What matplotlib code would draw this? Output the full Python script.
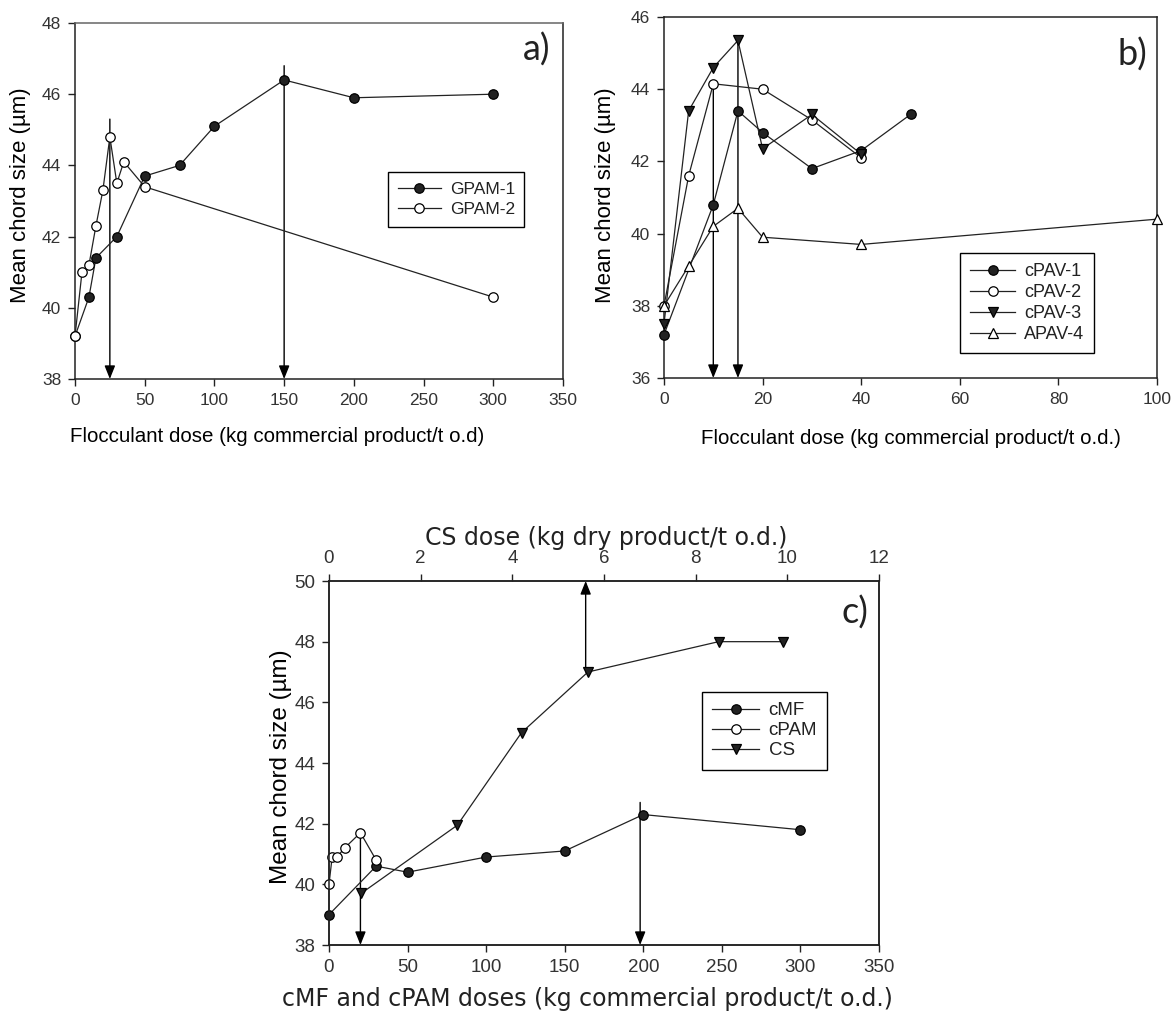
import matplotlib
matplotlib.use("Agg")
import matplotlib.pyplot as plt

plt.rcParams['font.family'] = ['Liberation Sans', 'DejaVu Sans']

# ---------------- data ----------------
# panel a
gpam1_x = [0, 10, 15, 30, 50, 75, 100, 150, 200, 300]
gpam1_y = [39.2, 40.3, 41.4, 42.0, 43.7, 44.0, 45.1, 46.4, 45.9, 46.0]
gpam2_x = [0, 5, 10, 15, 20, 25, 30, 35, 50, 300]
gpam2_y = [39.2, 41.0, 41.2, 42.3, 43.3, 44.8, 43.5, 44.1, 43.4, 40.3]
arrows_a_x = [25, 150]
arrows_a_top = [45.3, 46.8]

# panel b
cpav1_x = [0, 10, 15, 20, 30, 40, 50]
cpav1_y = [37.2, 40.8, 43.4, 42.8, 41.8, 42.3, 43.3]
cpav2_x = [0, 5, 10, 20, 30, 40]
cpav2_y = [38.0, 41.6, 44.15, 44.0, 43.15, 42.1]
cpav3_x = [0, 5, 10, 15, 20, 30, 40]
cpav3_y = [37.5, 43.4, 44.6, 45.35, 42.35, 43.3, 42.2]
apav4_x = [0, 5, 10, 15, 20, 40, 100]
apav4_y = [38.0, 39.1, 40.2, 40.7, 39.9, 39.7, 40.4]
arrows_b_x = [10, 15]
arrows_b_top = [44.15, 45.35]

# panel c
cmf_x = [0, 30, 50, 100, 150, 200, 300]
cmf_y = [39.0, 40.6, 40.4, 40.9, 41.1, 42.3, 41.8]
cpam_x = [0, 2, 5, 10, 20, 30]
cpam_y = [40.0, 40.9, 40.9, 41.2, 41.7, 40.8]
cs_x = [0.7, 2.8, 4.2, 5.65, 8.5, 9.9]
cs_y = [39.7, 41.95, 45.0, 47.0, 48.0, 48.0]
arrows_c_x = [20, 198]
arrows_c_top = [41.7, 42.7]
arrow_cs_x = 5.6
arrow_cs_bottom = 47.0

xticks_a = [0, 50, 100, 150, 200, 250, 300, 350]
yticks_a = [38, 40, 42, 44, 46, 48]
xticks_b = [0, 20, 40, 60, 80, 100]
yticks_b = [36, 38, 40, 42, 44, 46]
xticks_c = [0, 50, 100, 150, 200, 250, 300, 350]
xticks_c_top = [0, 2, 4, 6, 8, 10, 12]
yticks_c = [38, 40, 42, 44, 46, 48, 50]

# ---------------- style ----------------
LC = '#222222'
LW = 0.9
MS = 6.8
TICK_COLOR = '#333333'
W, H = 1172, 1015

fig = plt.figure(figsize=(W / 100, H / 100), dpi=100)

def style_axes(ax, fs):
    for s in ax.spines.values():
        s.set_color(LC)
        s.set_linewidth(1.1)
    ax.tick_params(direction='out', length=5, width=1, colors=LC,
                   labelsize=fs, labelcolor=TICK_COLOR, pad=5,
                   top=False, right=False)

def series(ax, x, y, marker, filled, label, ms=MS, z=3):
    ax.plot(x, y, color=LC, lw=LW, marker=marker, ms=ms,
            mfc=LC if filled else 'white', mec='black', mew=0.9,
            label=label, zorder=z, clip_on=False)

def down_arrow(ax, x, ytop, ybot):
    ax.annotate('', xy=(x, ybot), xytext=(x, ytop),
                arrowprops=dict(arrowstyle='-|>,head_length=0.8,head_width=0.32',
                                color='black', lw=1.0, shrinkA=0, shrinkB=0),
                zorder=2, annotation_clip=False)

def make_legend(ax, handles, labels, x_px, y_px, fs, spacing):
    leg = ax.legend(handles, labels, loc='upper left',
                    bbox_to_anchor=(x_px / W, 1 - y_px / H),
                    bbox_transform=fig.transFigure, borderaxespad=0,
                    fontsize=fs, frameon=True, fancybox=False,
                    edgecolor='black', framealpha=1, numpoints=1,
                    handlelength=2.5, handletextpad=0.5, labelspacing=spacing,
                    borderpad=0.55)
    leg.get_frame().set_linewidth(1.0)
    for t in leg.get_texts():
        t.set_color('#222222')
    return leg

def px_axes(l, r, t, b):
    return fig.add_axes([l / W, 1 - b / H, (r - l) / W, (b - t) / H])

# ---------------- panel a ----------------
axa = px_axes(75, 563, 23, 379)
style_axes(axa, 12.5)
axa.spines['top'].set_color('#666666')
for x, yt in zip(arrows_a_x, arrows_a_top):
    down_arrow(axa, x, yt, 38)
series(axa, gpam1_x, gpam1_y, 'o', True, 'GPAM-1')
series(axa, gpam2_x, gpam2_y, 'o', False, 'GPAM-2', z=4)
axa.set_xlim(0, 350)
axa.set_ylim(38, 48)
axa.set_xticks(xticks_a)
axa.set_yticks(yticks_a)
axa.set_xlabel('Flocculant dose (kg commercial product/t o.d)', fontsize=14.8)
axa.xaxis.set_label_coords(0.414, -0.135)
axa.set_ylabel('Mean chord size (µm)', fontsize=16)
axa.yaxis.set_label_coords(-0.090, 0.517)
axa.text(0.975, 0.924, 'a)', transform=axa.transAxes, fontsize=26, family='Lato',
         ha='right', va='center', color='#222222')
h_a, l_a = axa.get_legend_handles_labels()
make_legend(axa, h_a, l_a, 388, 172, 12.5, 0.32)

# ---------------- panel b ----------------
axb = px_axes(664, 1157, 17, 378)
style_axes(axb, 12.5)
for x, yt in zip(arrows_b_x, arrows_b_top):
    down_arrow(axb, x, yt, 36)
series(axb, cpav1_x, cpav1_y, 'o', True, 'cPAV-1')
series(axb, cpav2_x, cpav2_y, 'o', False, 'cPAV-2')
series(axb, cpav3_x, cpav3_y, 'v', True, 'cPAV-3', ms=7.2)
series(axb, apav4_x, apav4_y, '^', False, 'APAV-4', ms=7.2)
axb.set_xlim(0, 100)
axb.set_ylim(36, 46)
axb.set_xticks(xticks_b)
axb.set_yticks(yticks_b)
axb.set_xlabel('Flocculant dose (kg commercial product/t o.d.)', fontsize=14.8)
axb.xaxis.set_label_coords(0.5, -0.14)
axb.set_ylabel('Mean chord size (µm)', fontsize=16)
axb.yaxis.set_label_coords(-0.097, 0.507)
axb.text(0.98, 0.895, 'b)', transform=axb.transAxes, fontsize=26, family='Lato',
         ha='right', va='center', color='#222222')
h_b, l_b = axb.get_legend_handles_labels()
make_legend(axb, h_b, l_b, 960, 253, 13, 0.22)

# ---------------- panel c ----------------
axc = px_axes(329, 879, 581, 945)
style_axes(axc, 13.5)
axc_top = axc.twiny()
style_axes(axc_top, 13.5)
axc_top.tick_params(top=True, bottom=False, labeltop=True, labelbottom=False)
for x, yt in zip(arrows_c_x, arrows_c_top):
    down_arrow(axc, x, yt, 38)
series(axc, cmf_x, cmf_y, 'o', True, 'cMF')
series(axc, cpam_x, cpam_y, 'o', False, 'cPAM', z=4)
axc.set_xlim(0, 350)
axc.set_ylim(38, 50)
axc.set_xticks(xticks_c)
axc.set_yticks(yticks_c)
axc_top.set_xlim(0, 12)
axc_top.set_xticks(xticks_c_top)
down_arrow(axc_top, arrow_cs_x, arrow_cs_bottom, 50)
series(axc_top, cs_x, cs_y, 'v', True, 'CS', ms=7.2)
axc.set_xlabel('cMF and cPAM doses (kg commercial product/t o.d.)', fontsize=17,
               family='DejaVu Sans', color='#222222')
axc.xaxis.set_label_coords(0.469, -0.115)
axc_top.set_xlabel('CS dose (kg dry product/t o.d.)', fontsize=17,
                   family='DejaVu Sans', color='#222222')
axc_top.xaxis.set_label_coords(0.504, 1.10)
axc.set_ylabel('Mean chord size (µm)', fontsize=17.5)
axc.yaxis.set_label_coords(-0.068, 0.489)
axc.text(0.98, 0.912, 'c)', transform=axc.transAxes, fontsize=26, family='Lato',
         ha='right', va='center', color='#222222')
h1, l1 = axc.get_legend_handles_labels()
h2, l2 = axc_top.get_legend_handles_labels()
make_legend(axc_top, h1 + h2, l1 + l2, 702, 692, 13.5, 0.15)

fig.savefig('out.png', dpi=100, facecolor='white')
